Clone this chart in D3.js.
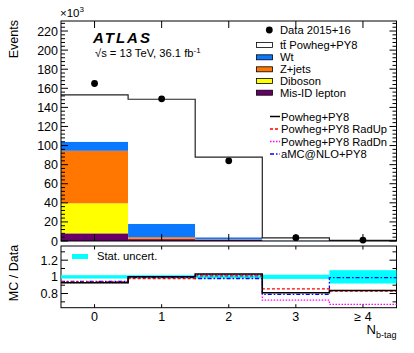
<!DOCTYPE html>
<html><head><meta charset="utf-8">
<script src="https://cdn.jsdelivr.net/npm/d3@7"></script>
<style>body{margin:0;background:#fff}svg{display:block;font-family:"Liberation Sans",Arial,sans-serif}</style>
</head><body><svg id="c" width="414" height="353"></svg>
<script>
const bins = ["0","1","2","3","\u2265 4"];
const binCenters = [0,1,2,3,4];
const dataVals = [165, 149, 84, 3.5, 1.0];
const ttbar = [49, 130.5, 84, 2.8, 0.6];
const wt = [9.5, 14, 2, 0.4, 0.05];
const zjets = [55, 1.7, 0.3, 0.02, 0];
const diboson = [31.5, 0.3, 0.1, 0.02, 0];
const misid = [8, 2, 1.5, 0.1, 0.02];
const ratioNom = [0.928, 1.0, 1.033, 0.81, 0.835];
const ratioUp = [0.94, 0.98, 1.012, 0.855, 0.83];
const ratioDn = [0.93, 1.0, 1.025, 0.72, 0.67];
const ratioAmc = [0.945, 0.995, 0.98, 0.79, 0.99];
const statUnc = [0.02, 0.02, 0.02, 0.025, 0.08];
const yTicksMain = [0,20,40,60,80,100,120,140,160,180,200,220];
const yTicksRatio = [0.8,1,1.2];

const svg = d3.select("#c");
const L=61, R=396.5, T=21, B=241, RT=246, RB=307.7;
const x = d3.scaleLinear().domain([-0.5,4.5]).range([L,R]);
const y = d3.scaleLinear().domain([0,230.5]).range([B,T]);
const yr = d3.scaleLinear().domain([0.63,1.37]).range([RB,RT]);

// stack order bottom->top
const comps = [
  {name:"Mis-ID lepton", vals:misid, color:"#660066"},
  {name:"Diboson", vals:diboson, color:"#ffff00"},
  {name:"Z+jets", vals:zjets, color:"#ff7700"},
  {name:"Wt", vals:wt, color:"#0a78ff"},
  {name:"tt\u0304 Powheg+PY8", vals:ttbar, color:"#ffffff"}
];
const table = binCenters.map((c,i)=>{const o={c}; comps.forEach(k=>o[k.name]=k.vals[i]); return o;});
const stack = d3.stack().keys(comps.map(k=>k.name))(table);
const main = svg.append("g");
stack.forEach((layer,li)=>{
  main.selectAll(null).data(layer).enter().append("rect")
    .attr("x",d=>x(d.data.c-0.5)).attr("width",d=>x(d.data.c+0.5)-x(d.data.c-0.5))
    .attr("y",d=>y(d[1])).attr("height",d=>Math.max(0,y(d[0])-y(d[1])))
    .attr("fill",comps[li].color);
});
// total outline step
const totals = binCenters.map((c,i)=>comps.reduce((s,k)=>s+k.vals[i],0));
const stepPts = binCenters.map((c,i)=>[c-0.5,totals[i]]).concat([[4.5,totals[4]]]);
main.append("path").datum(stepPts)
  .attr("d",d3.line().x(d=>x(d[0])).y(d=>y(d[1])).curve(d3.curveStepAfter))
  .attr("fill","none").attr("stroke","#222").attr("stroke-width",1.2);
main.append("line").attr("x1",x(4.5)).attr("x2",x(4.5)).attr("y1",y(totals[4])).attr("y2",B).attr("stroke","#222");
// data points
main.selectAll(null).data(binCenters).enter().append("circle")
  .attr("cx",d=>x(d)).attr("cy",(d,i)=>y(dataVals[i])).attr("r",3.4).attr("fill","#000");

// frames & ticks
function frame(top,bot){
  svg.append("rect").attr("x",L).attr("y",top).attr("width",R-L).attr("height",bot-top)
    .attr("fill","none").attr("stroke","#000").attr("stroke-width",1);
}
frame(T,B); frame(RT,RB);
const tk = svg.append("g").attr("stroke","#000").attr("stroke-width",1);
// main y ticks
d3.range(0,229,4).forEach(v=>{
  const len = v%20===0?7:4;
  tk.append("line").attr("x1",L).attr("x2",L+len).attr("y1",y(v)).attr("y2",y(v));
  tk.append("line").attr("x1",R).attr("x2",R-len).attr("y1",y(v)).attr("y2",y(v));
});
binCenters.forEach(c=>{
  tk.append("line").attr("x1",x(c)).attr("x2",x(c)).attr("y1",B).attr("y2",B-7);
  tk.append("line").attr("x1",x(c)).attr("x2",x(c)).attr("y1",T).attr("y2",T+7);
  tk.append("line").attr("x1",x(c)).attr("x2",x(c)).attr("y1",RB).attr("y2",RB-3.5);
  tk.append("line").attr("x1",x(c)).attr("x2",x(c)).attr("y1",RT).attr("y2",RT+3.5);
});
[0.7,0.8,0.9,1.0,1.1,1.2,1.3].forEach(v=>{
  const len = (Math.round(v*10)%2===0)?7:4;
  tk.append("line").attr("x1",L).attr("x2",L+len).attr("y1",yr(v)).attr("y2",yr(v));
  tk.append("line").attr("x1",R).attr("x2",R-len).attr("y1",yr(v)).attr("y2",yr(v));
});
// tick labels
svg.append("g").selectAll(null).data(yTicksMain).enter().append("text")
  .attr("x",58).attr("y",d=>y(d)+4.5).attr("text-anchor","end").attr("font-size",12.5).text(d=>d);
svg.append("g").selectAll(null).data(yTicksRatio).enter().append("text")
  .attr("x",58).attr("y",d=>yr(d)+4.5).attr("text-anchor","end").attr("font-size",12.5).text(d=>d===1?"1":d);
svg.append("g").selectAll(null).data(binCenters).enter().append("text")
  .attr("x",d=>x(d)).attr("y",321).attr("text-anchor","middle").attr("font-size",12.5).text((d,i)=>bins[i]);

// ratio panel
const rp = svg.append("g");
rp.selectAll(null).data(binCenters).enter().append("rect")
  .attr("x",d=>x(d-0.5)).attr("width",d=>x(d+0.5)-x(d-0.5))
  .attr("y",(d,i)=>yr(1+statUnc[i])).attr("height",(d,i)=>yr(1-statUnc[i])-yr(1+statUnc[i]))
  .attr("fill","#00ffff");
const rline = d3.line().x(d=>x(d[0])).y(d=>yr(d[1])).curve(d3.curveStepAfter);
function steps(vals){return binCenters.map((c,i)=>[c-0.5,vals[i]]).concat([[4.5,vals[4]]]);}
const rSeries = [
  {vals:ratioDn, color:"#ff00ff", w:1.3, dash:"1.5,1.5", name:"Powheg+PY8 RadDn"},
  {vals:ratioAmc, color:"#0000ff", w:1.3, dash:"4,2,1.5,2", name:"aMC@NLO+PY8"},
  {vals:ratioUp, color:"#ff0000", w:1.3, dash:"3,2", name:"Powheg+PY8 RadUp"},
  {vals:ratioNom, color:"#000000", w:1.5, dash:null, name:"Powheg+PY8"}
];
rSeries.forEach(s=>{
  rp.append("path").datum(steps(s.vals)).attr("d",rline).attr("fill","none")
    .attr("stroke",s.color).attr("stroke-width",s.w).attr("stroke-dasharray",s.dash);
});
// ratio legend
svg.append("rect").attr("x",72).attr("y",254).attr("width",16).attr("height",5).attr("fill","#00ffff");
svg.append("text").attr("x",97).attr("y",260).attr("font-size",11.2).text("Stat. uncert.");

// axis titles
svg.append("text").attr("transform","translate(17.5,20) rotate(-90)").attr("text-anchor","end")
  .attr("font-size",12.5).text("Events");
svg.append("text").attr("transform","translate(17.5,273) rotate(-90)").attr("text-anchor","middle")
  .attr("font-size",12.5).text("MC / Data");
const xt = svg.append("text").attr("x",R).attr("y",334).attr("text-anchor","end").attr("font-size",13);
xt.append("tspan").text("N");
xt.append("tspan").attr("font-size",9).attr("dy",4).text("b-tag");
const e3 = svg.append("text").attr("x",60).attr("y",17).attr("font-size",11.5);
e3.append("tspan").text("\u00d710");
e3.append("tspan").attr("font-size",8).attr("dy",-5).text("3");

// ATLAS label
svg.append("text").attr("x",93).attr("y",42.7).attr("font-size",15).attr("font-weight","bold")
  .attr("font-style","italic").attr("letter-spacing",2).text("ATLAS");
const en = svg.append("text").attr("x",95).attr("y",57).attr("font-size",11.2);
en.append("tspan").text("\u221As = 13 TeV, 36.1 fb");
en.append("tspan").attr("font-size",8).attr("dy",-4).text("-1");

// legend
const lg = svg.append("g").attr("font-size",11.2);
lg.append("circle").attr("cx",269.3).attr("cy",30).attr("r",3.4).attr("fill","#000");
lg.append("text").attr("x",280).attr("y",34).text("Data 2015+16");
const boxRows = [comps[4],comps[3],comps[2],comps[1],comps[0]];
const boxY = [45,57.3,69.3,81,92.7];
boxRows.forEach((k,i)=>{
  lg.append("rect").attr("x",256.5).attr("y",boxY[i]-2.5).attr("width",16).attr("height",5)
    .attr("fill",k.color).attr("stroke","#000").attr("stroke-width",0.8);
  lg.append("text").attr("x",280).attr("y",boxY[i]+4).text(k.name);
});
const lineRows = [rSeries[3],rSeries[2],rSeries[0],rSeries[1]];
const lineY = [116.5,129,141.5,154];
lineRows.forEach((s,i)=>{
  lg.append("line").attr("x1",270).attr("x2",280).attr("y1",lineY[i]).attr("y2",lineY[i])
    .attr("stroke",s.color).attr("stroke-width",s.w).attr("stroke-dasharray",s.dash);
  lg.append("text").attr("x",281).attr("y",lineY[i]+4).text(s.name);
});
</script></body></html>
